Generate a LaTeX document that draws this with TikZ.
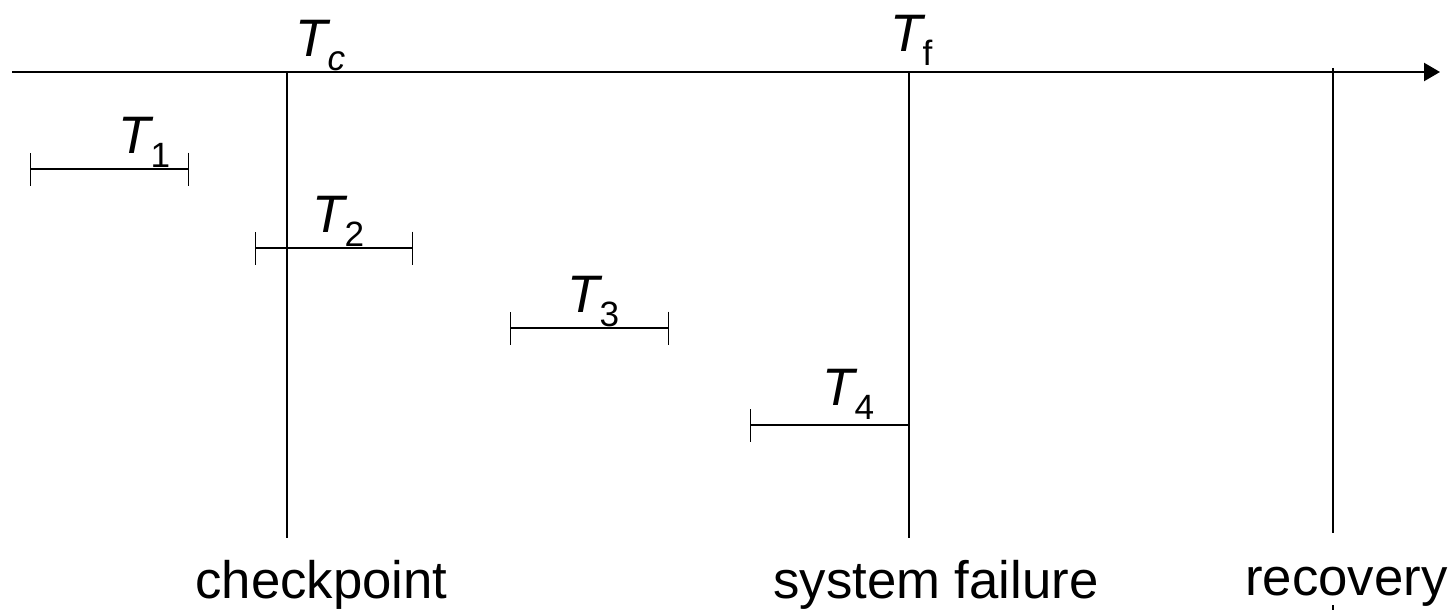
\documentclass[tikz,border=0pt]{standalone}
\usepackage{fontspec}
\setmainfont{Liberation Sans}
\usetikzlibrary{arrows.meta}
\newcommand{\tname}[1]{{\fontsize{30}{30}\selectfont\itshape T}\raisebox{-0.28cm}{\fontsize{20}{20}\selectfont #1}}

\begin{document}
\begin{tikzpicture}[
  timeaxis/.style={line width=1.3pt,-{Triangle[length=0.32cm,width=0.36cm]}},
  event/.style={line width=0.8pt},
  span/.style={line width=0.8pt,{Bar[width=0.66cm]}-{Bar[width=0.66cm]}},
  tlab/.style={inner sep=0pt,anchor=base west},
  evlab/.style={inner sep=0pt,anchor=base west,font=\fontsize{30}{30}\selectfont}
]
\useasboundingbox (0,0) rectangle (29.08,12.2);
% time axis
\coordinate (start) at (0.24,10.76);
\coordinate (end) at (28.8,10.76);
\draw[timeaxis] (start) -- (end);
% events
\coordinate (ctop) at (5.74,10.76);
\coordinate (cbot) at (5.74,1.44);
\coordinate (ftop) at (18.18,10.76);
\coordinate (fbot) at (18.18,1.44);
\coordinate (rtop) at (26.66,10.84);
\coordinate (rbot) at (26.66,1.54);
\coordinate (rtail) at (26.66,0.1);
\coordinate (redge) at (26.66,0);
\draw[event] (ctop) -- (cbot);
\draw[event] (ftop) -- (fbot);
\draw[event] (rtop) -- (rbot);
\draw[event] (rtail) -- (redge);
\node[tlab] (tc) at (5.9,11.06) {\tname{\itshape c}};
\node[tlab] (tf) at (17.8,11.16) {\tname{f}};
\node[evlab] (checkpoint) at (3.9,0.24) {checkpoint};
\node[evlab] (failure) at (15.46,0.24) {system failure};
\node[evlab] (recovery) at (24.9,0.3) {recovery};
% transactions
\coordinate (t1s) at (0.6,8.82);
\coordinate (t1e) at (3.78,8.82);
\coordinate (t2s) at (5.1,7.24);
\coordinate (t2e) at (8.26,7.24);
\coordinate (t3s) at (10.2,5.64);
\coordinate (t3e) at (13.38,5.64);
\coordinate (t4s) at (15.0,3.7);
\coordinate (t4e) at (18.18,3.7);
\draw[span] (t1s) -- (t1e);
\draw[span] (t2s) -- (t2e);
\draw[span] (t3s) -- (t3e);
\draw[{Bar[width=0.66cm]}-,line width=0.8pt] (t4s) -- (t4e);
\node[tlab] (t1) at (2.36,9.14) {\tname{1}};
\node[tlab] (t2) at (6.24,7.56) {\tname{2}};
\node[tlab] (t3) at (11.34,5.96) {\tname{3}};
\node[tlab] (t4) at (16.44,4.1) {\tname{4}};
\end{tikzpicture}
\end{document}
